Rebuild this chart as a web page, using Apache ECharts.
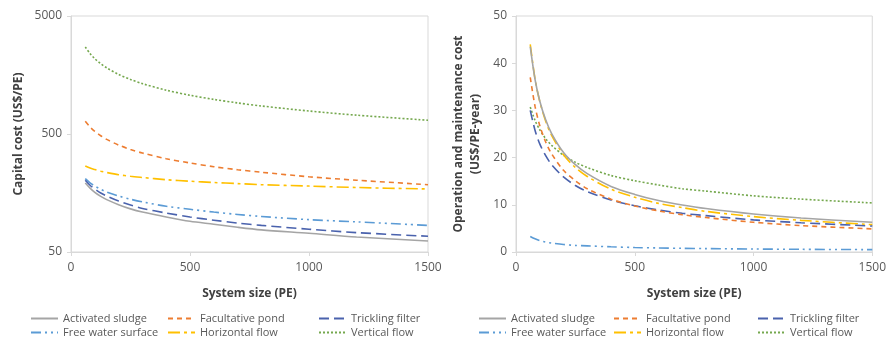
<!DOCTYPE html>
<html><head><meta charset="utf-8">
<script src="https://cdn.jsdelivr.net/npm/echarts@6/dist/echarts.min.js"></script>
<style>html,body{margin:0;padding:0;background:#fff}#c{width:889px;height:342px}</style>
</head><body><div id="c"></div>
<script>
// System size (PE)
const sizes = [60, 80, 100, 125, 150, 200, 250, 300, 400, 500, 600, 700, 800, 1000, 1200, 1500];
const names = ['Activated sludge','Facultative pond','Trickling filter','Free water surface','Horizontal flow','Vertical flow'];

// Capital cost (US$/PE)
const capActivated   = [192, 174, 160, 148, 139, 126, 116, 109, 99, 91, 86, 81, 77, 72, 67, 62];
const capFacultative = [640, 573, 526, 483, 450, 403, 370, 345, 309, 284, 264, 249, 237, 217, 203, 186];
const capTrickling   = [203, 184, 171, 158, 149, 135, 125, 117, 107, 99, 93, 88, 84, 78, 73, 68];
const capFreeWater   = [209, 193, 181, 170, 161, 149, 140, 133, 122, 115, 109, 104, 100, 94, 90, 84];
const capHorizontal  = [268, 257, 250, 242, 236, 226, 219, 214, 205, 199, 194, 190, 186, 181, 176, 171];
const capVertical    = [2730, 2402, 2176, 1971, 1818, 1600, 1449, 1336, 1176, 1065, 982, 917, 864, 783, 722, 654];

// O&M cost (US$/PE-year)
const omActivated    = [43.5, 36.6, 32.0, 28.0, 25.1, 21.1, 18.5, 16.6, 13.9, 12.2, 10.9, 9.96, 9.2, 8.04, 7.2, 6.3];
const omFacultative  = [37.0, 30.9, 26.8, 23.3, 20.8, 17.3, 15.1, 13.4, 11.2, 9.75, 8.7, 7.9, 7.3, 6.3, 5.6, 4.9];
const omTrickling    = [30.0, 25.8, 22.9, 20.4, 18.5, 15.9, 14.1, 12.8, 11.0, 9.8, 8.9, 8.2, 7.7, 6.8, 6.2, 5.5];
const omFreeWater    = [3.3, 2.8, 2.4, 2.1, 1.9, 1.6, 1.4, 1.3, 1.1, 0.95, 0.86, 0.78, 0.72, 0.63, 0.57, 0.5];
const omHorizontal   = [44.0, 36.7, 31.9, 27.7, 24.7, 20.6, 17.9, 16.0, 13.3, 11.6, 10.3, 9.4, 8.6, 7.5, 6.7, 5.8];
const omVertical     = [30.7, 27.9, 25.9, 24.0, 22.6, 20.5, 19.0, 17.9, 16.2, 15.1, 14.2, 13.4, 12.9, 11.9, 11.2, 10.4];

const capTicks = [50, 500, 5000];

const colors = ['#a5a5a5', '#ed7d31', '#4a62ad', '#5b9bd5', '#ffc000', '#75a84e'];
const dashes = ['solid', [5, 4], [10, 5], [10, 4, 2, 4, 2, 4], [12, 4, 3, 4], [2, 2]];

const capSets = [capActivated, capFacultative, capTrickling, capFreeWater, capHorizontal, capVertical];
const omSets = [omActivated, omFacultative, omTrickling, omFreeWater, omHorizontal, omVertical];

const font = 'Open Sans';
const grey = '#595959';
const axisCol = '#d9d9d9';

function mkSeries(sets, idx) {
  return sets.map((vals, i) => ({
    name: names[i], type: 'line', xAxisIndex: idx, yAxisIndex: idx,
    data: sizes.map((x, k) => [x, vals[k]]),
    smooth: 0.3, symbol: 'none', z: 10 - i,
    lineStyle: { color: colors[i], width: 1.6, type: dashes[i] },
    itemStyle: { color: colors[i] }
  }));
}

function xAx(idx) {
  return {
    gridIndex: idx, type: 'value', min: 0, max: 1500, interval: 500,
    name: 'System size (PE)', nameLocation: 'middle', nameGap: 36,
    nameTextStyle: { fontFamily: font, fontWeight: 'bold', fontSize: 12, color: '#404040' },
    axisLine: { lineStyle: { color: axisCol } },
    axisTick: { show: true, length: 4, lineStyle: { color: axisCol } },
    axisLabel: { fontFamily: font, fontSize: 12, color: grey, margin: 10, formatter: v => String(v) },
    splitLine: { show: false }
  };
}

function legends(lefts) {
  const out = [];
  for (let c = 0; c < 3; c++) {
    out.push({
      orient: 'vertical', left: lefts[c], top: 313, itemGap: 3,
      itemWidth: 27, itemHeight: 12, padding: 0,
      itemStyle: { opacity: 0, borderWidth: 0 },
      data: [names[c], names[c + 3]],
      textStyle: { fontFamily: font, fontSize: 11, color: grey }
    });
  }
  return out;
}

const chart = echarts.init(document.getElementById('c'), null, { renderer: 'canvas' });
chart.setOption({
  animation: false,
  backgroundColor: '#fff',
  grid: [
    { left: 71, right: 461, top: 16, bottom: 90, show: true, borderColor: axisCol, borderWidth: 1 },
    { left: 516, right: 16, top: 16, bottom: 90, show: true, borderColor: axisCol, borderWidth: 1 }
  ],
  xAxis: [xAx(0), xAx(1)],
  yAxis: [
    {
      gridIndex: 0, type: 'log', logBase: 10, min: 50, max: 5000,
      name: 'Capital cost (US$/PE)', nameLocation: 'middle', nameGap: 46,
      nameTextStyle: { fontFamily: font, fontWeight: 'bold', fontSize: 12, color: '#404040' },
      axisLine: { show: true, lineStyle: { color: axisCol } },
      axisTick: { show: true, length: 4, lineStyle: { color: axisCol }, customValues: capTicks },
      axisLabel: { fontFamily: font, fontSize: 12, color: grey, margin: 9, customValues: capTicks, formatter: v => String(v) },
      splitLine: { show: false }
    },
    {
      gridIndex: 1, type: 'value', min: 0, max: 50, interval: 10,
      name: 'Operation and maintenance cost\n(US$/PE-year)', nameLocation: 'middle', nameGap: 32,
      nameTextStyle: { fontFamily: font, fontWeight: 'bold', fontSize: 12, color: '#404040', lineHeight: 17 },
      axisLine: { show: true, lineStyle: { color: axisCol } },
      axisTick: { show: true, length: 4, lineStyle: { color: axisCol } },
      axisLabel: { fontFamily: font, fontSize: 12, color: grey, margin: 9 },
      splitLine: { show: false }
    }
  ],
  legend: legends([30, 167, 318]).concat(legends([478, 613, 757])),
  series: mkSeries(capSets, 0).concat(mkSeries(omSets, 1))
});
</script></body></html>
